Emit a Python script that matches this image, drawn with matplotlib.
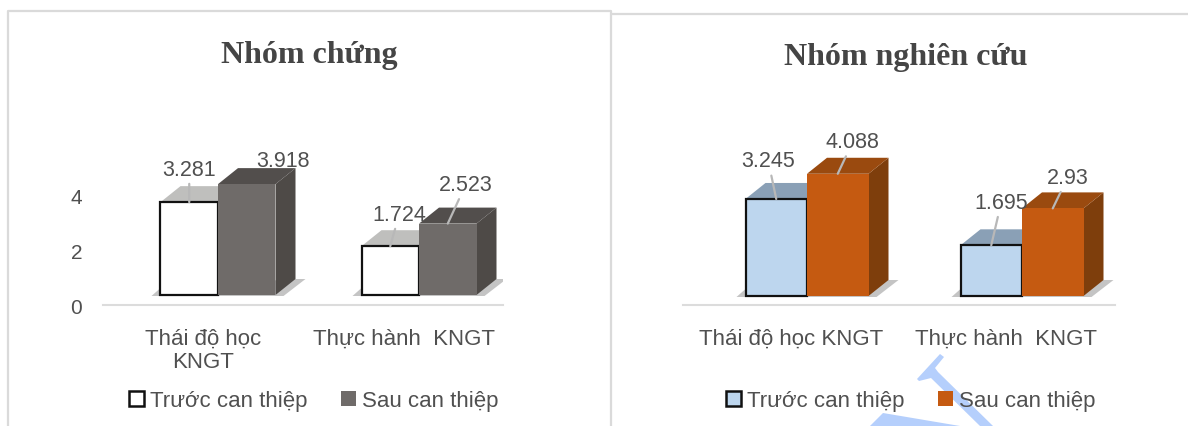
import matplotlib
matplotlib.use('Agg')
import matplotlib.pyplot as plt
import numpy as np
from matplotlib.patches import Patch, Polygon

WIDTH, HEIGHT = 1188, 427

SERIES = ['Trước can thiệp', 'Sau can thiệp']
CONTROL_TITLE = 'Nhóm chứng'
STUDY_TITLE = 'Nhóm nghiên cứu'
CONTROL_CATS = ['Thái độ học\nKNGT', 'Thực hành  KNGT']
STUDY_CATS = ['Thái độ học KNGT', 'Thực hành  KNGT']
CONTROL_BEFORE = [3.281, 1.724]
CONTROL_AFTER = [3.918, 2.523]
STUDY_BEFORE = [3.245, 1.695]
STUDY_AFTER = [4.088, 2.93]
CONTROL_TICKS = [0, 2, 4]

TEXT_COL = '#505050'
TITLE_COL = '#454545'
LEADER_COL = '#b8b8b8'
FLOOR_COL = '#dcdcdc'
FRAME_COL = '#dadada'
SHADOW_COL = '#c4c4c4'
MARK_COL = '#b5cffc'

SANS = 'Liberation Sans'
SERIF = 'Liberation Serif'

# face colours per series: front, top, side
GREY_STYLE = [('#ffffff', '#bfbfbd', '#bfbfbd'), ('#6f6b69', '#524e4c', '#4e4a47')]
COLOR_STYLE = [('#bdd6ee', '#8aa0b6', '#8aa0b6'), ('#c55a11', '#9a4a0f', '#7e3e0c')]

# bar depth in pixels
DEPTH_X, DEPTH_Y = 20, 16

# label offsets from the bar's top centre, in pixels
CONTROL_OFFSETS = [[(0, 33), (9, 32)], [(36, 24), (18, 39)]]
STUDY_OFFSETS = [[(-8, 38), (10, 43)], [(15, 32), (15, 31)]]
CONTROL_LEADERS = [[True, True], [False, True]]
STUDY_LEADERS = [[True, True], [True, True]]


def px_axes(fig, x0, x1, y0, y1):
    """Axes covering pixel box x0..x1, y0..y1 (y counted from the top)."""
    return fig.add_axes([x0 / WIDTH, 1 - y1 / HEIGHT,
                         (x1 - x0) / WIDTH, (y1 - y0) / HEIGHT])


def draw_bar(ax, x, w, v, style, sx, sy, edge):
    """Front, top and side faces of one pseudo-3D column."""
    dx, dy = DEPTH_X / sx, DEPTH_Y / sy
    front, top, side = style
    ax.add_patch(Polygon([(x + w, 0), (x + w + dx, dy), (x + w + dx, v + dy), (x + w, v)],
                         fc=side, ec='none', zorder=3, clip_on=False))
    ax.add_patch(Polygon([(x, v), (x + dx, v + dy), (x + w + dx, v + dy), (x + w, v)],
                         fc=top, ec='none', zorder=3, clip_on=False))
    ax.bar(x, v, w, align='edge', color=front, edgecolor=edge,
           linewidth=1.6 if edge != 'none' else 0, zorder=4, clip_on=False)


def draw_panel(fig, box, base_y, centre0, spacing, bar_w, ppu, cats, before, after,
               styles, offsets, leaders, label_shift):
    x0, x1, y0, y1 = box
    ax = px_axes(fig, x0, x1, y0, y1)
    ax.patch.set_alpha(0)
    ax.set_xlim((x0 - centre0) / spacing, (x1 - centre0) / spacing)
    ax.set_ylim(-(y1 - base_y) / ppu, (base_y - y0) / ppu)
    sx = spacing
    w = bar_w / spacing
    pos = np.arange(len(cats))

    for i in pos:
        # soft floor shadow behind each pair
        right = i + w + DEPTH_X / sx
        ax.add_patch(Polygon([(i - w - 9 / sx, -1 / ppu), (i - w, 7 / ppu),
                              (right, DEPTH_Y / ppu), (right + 10 / sx, DEPTH_Y / ppu),
                              (i + w + 8 / sx, -1 / ppu)],
                             fc=SHADOW_COL, ec='none', zorder=2))

    for k, vals in enumerate((before, after)):
        edge = '#111111' if k == 0 else 'none'
        for i, v in zip(pos, vals):
            draw_bar(ax, i - w + k * w, w, v, styles[k], sx, ppu, edge)

    for k, vals in enumerate((before, after)):
        for i, v in zip(pos, vals):
            cx = i - w + k * w + w / 2
            props = dict(arrowstyle='-', color=LEADER_COL, lw=1.6, shrinkA=1, shrinkB=0)
            ax.annotate(f'{v:g}', xy=(cx, v), xytext=offsets[k][i],
                        textcoords='offset pixels', ha='center', va='center',
                        fontsize=15.5, color=TEXT_COL, family=SANS, zorder=6,
                        arrowprops=props if leaders[k][i] else None)

    ax.set_xticks(pos - label_shift / spacing, cats)
    ax.set_yticks([])
    ax.tick_params(axis='x', length=0, pad=16, labelsize=16, labelcolor=TEXT_COL)
    for lab in ax.get_xticklabels():
        lab.set_family(SANS)
        lab.set_linespacing(1.15)
    for name in ('top', 'left', 'right'):
        ax.spines[name].set_visible(False)
    ax.spines['bottom'].set_color(FLOOR_COL)
    ax.spines['bottom'].set_linewidth(1.5)
    return ax


def draw_legend(fig, centre, swatches):
    # only the first swatch carries an outline
    handles = [Patch(fc=fc, ec=ec, lw=1.8 if ec != fc else 0, label=name)
               for name, (fc, ec) in zip(SERIES, swatches)]
    fig.legend(handles=handles, loc='center', ncols=2, frameon=False,
               bbox_to_anchor=(centre / WIDTH, 1 - 402 / HEIGHT),
               handlelength=0.65, handleheight=0.65, handletextpad=0.3,
               columnspacing=1.5, labelcolor=TEXT_COL,
               prop=dict(family=SANS, size=16))


fig = plt.figure(figsize=(WIDTH / 100, HEIGHT / 100), dpi=100, facecolor='white')

# panel frames and the faint blue stamp sit underneath everything else
back = fig.add_axes([0, 0, 1, 1])
back.set_xlim(0, WIDTH)
back.set_ylim(HEIGHT, 0)
back.axis('off')
back.plot([8, 8, 611, 611], [427, 12, 12, 427], color=FRAME_COL, lw=1.6)
back.plot([613, 1188], [15, 15], color=FRAME_COL, lw=1.6)
back.add_patch(Polygon([(940, 355), (944, 358), (935, 369), (938, 373), (993, 427),
                        (980, 427), (931, 379), (919, 382), (917, 380)],
                       fc=MARK_COL, ec='none'))
back.add_patch(Polygon([(883, 414), (960, 427), (870, 427)], fc=MARK_COL, ec='none'))

# control group
left = draw_panel(fig, (103, 503, 150, 306), 296, 218, 201, 57.5, 28.3,
                  CONTROL_CATS, CONTROL_BEFORE, CONTROL_AFTER, GREY_STYLE,
                  CONTROL_OFFSETS, CONTROL_LEADERS, 15)
ticks = left.twinx()
ticks.patch.set_alpha(0)
ticks.set_ylim(0, 156 / 27.3)
ticks.yaxis.tick_left()
ticks.set_yticks(CONTROL_TICKS)
ticks.tick_params(axis='y', length=0, pad=15, labelsize=15, labelcolor=TEXT_COL)
for lab in ticks.get_yticklabels():
    lab.set_family(SANS)
for spine in ticks.spines.values():
    spine.set_visible(False)
fig.text(309 / WIDTH, 1 - 55 / HEIGHT, CONTROL_TITLE, ha='center', va='center',
         fontsize=23, fontweight='bold', color=TITLE_COL, family=SERIF)
draw_legend(fig, 314, [('#ffffff', '#111111'), ('#6f6b69', '#6f6b69')])

# study group
draw_panel(fig, (683, 1115, 150, 306), 297, 807, 215, 61.5, 29.9,
           STUDY_CATS, STUDY_BEFORE, STUDY_AFTER, COLOR_STYLE,
           STUDY_OFFSETS, STUDY_LEADERS, 16)
fig.text(906 / WIDTH, 1 - 58 / HEIGHT, STUDY_TITLE, ha='center', va='center',
         fontsize=23, fontweight='bold', color=TITLE_COL, family=SERIF)
draw_legend(fig, 911, [('#bdd6ee', '#111111'), ('#c55a11', '#c55a11')])

fig.savefig('out.png', dpi=100, facecolor='white')
plt.close(fig)
